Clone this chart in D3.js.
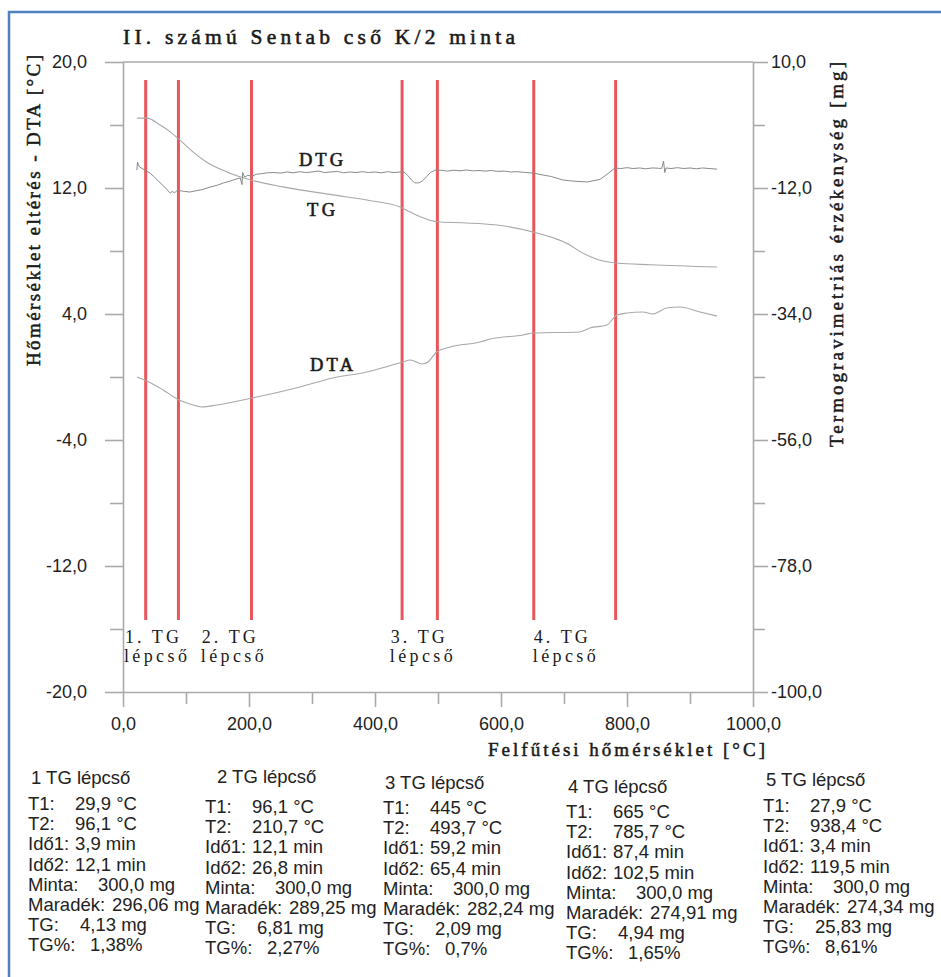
<!DOCTYPE html>
<html>
<head>
<meta charset="utf-8">
<script src="https://cdn.jsdelivr.net/npm/d3@7.9.0/dist/d3.min.js"></script>
<style>
  body { margin: 0; background: #fff; }
  svg { display: block; }
  .tick text { font-family: "Liberation Sans", Arial, sans-serif; font-size: 18px; fill: #222; }
  .serif { font-family: "Liberation Serif", "DejaVu Serif", serif; fill: #1a1a1a; }
  .tbl { font-family: "Liberation Sans", Arial, sans-serif; font-size: 18.5px; fill: #222; }
</style>
</head>
<body>
<svg id="chart" width="941" height="977"></svg>
<script>
// TG curve (right axis, mg)
const tgTemp = [22, 38, 59, 75, 90, 111, 133, 165, 203, 254, 333, 387, 440, 456, 476, 498, 546, 603, 652, 683, 710, 721, 757, 784, 837, 943];
const tgMass = [0.2, 0.2, -1.0, -2.2, -3.6, -5.7, -7.5, -9.2, -10.6, -11.8, -13.2, -14.1, -15.3, -16.2, -17.2, -17.9, -18.1, -18.6, -19.7, -20.7, -22.0, -22.8, -24.6, -25.1, -25.4, -25.8];

// DTA curve (left axis, °C)
const dtaTemp = [22, 38, 64, 89, 106, 125, 149, 205, 281, 333, 387, 444, 456, 475, 484, 498, 519, 567, 583, 635, 651, 725, 741, 768, 784, 800, 825, 841, 863, 884, 916, 943];
const dtaVal = [0.0, -0.25, -0.83, -1.46, -1.71, -1.9, -1.78, -1.33, -0.63, -0.06, 0.32, 0.95, 1.08, 0.83, 0.95, 1.59, 1.9, 2.22, 2.41, 2.67, 2.79, 2.86, 3.11, 3.3, 3.94, 4.06, 4.13, 4.0, 4.38, 4.44, 4.13, 3.87];

// DTG curve (right axis scale)
const dtgTemp = [22, 23, 26, 35, 43, 50, 57, 64, 70, 75, 78, 82, 86, 92, 98, 106, 115, 125, 138, 150, 160, 170, 178, 186, 189, 190, 193, 198, 205, 212, 220, 229, 240, 250, 260, 270, 280, 290, 300, 310, 320, 330, 340, 350, 360, 370, 380, 390, 400, 410, 420, 430, 440, 446, 452, 458, 463, 470, 476, 482, 488, 495, 505, 515, 525, 535, 545, 555, 565, 575, 585, 595, 605, 615, 625, 640, 652, 665, 680, 698, 715, 737, 757, 766, 773, 781, 790, 800, 810, 820, 830, 840, 850, 855, 858, 860, 862, 870, 880, 890, 900, 910, 920, 930, 943];
const dtgVal = [-8.9, -7.5, -8.3, -8.9, -9.4, -10.1, -10.9, -11.6, -12.3, -12.9, -12.6, -12.85, -12.4, -12.5, -12.6, -12.7, -12.5, -12.3, -11.85, -11.5, -11.1, -10.8, -10.5, -10.25, -11.4, -9.3, -10.1, -9.8, -9.9, -9.6, -9.5, -9.35, -9.3, -9.4, -9.2, -9.35, -9.15, -9.3, -9.2, -9.05, -9.3, -9.2, -9.1, -9.35, -9.2, -9.3, -9.15, -9.3, -9.2, -9.35, -9.15, -9.3, -9.2, -9.2, -9.8, -10.6, -11.1, -11.1, -10.7, -10.0, -9.3, -8.9, -8.9, -9.05, -8.9, -9.0, -8.85, -9.0, -8.95, -9.05, -8.95, -9.1, -9.05, -9.2, -9.15, -9.3, -9.4, -9.7, -10.0, -10.6, -10.8, -10.95, -10.5, -9.8, -9.2, -8.5, -8.6, -8.45, -8.6, -8.5, -8.65, -8.5, -8.55, -8.6, -7.3, -9.3, -8.5, -8.6, -8.45, -8.6, -8.5, -8.65, -8.5, -8.6, -8.7];

// TG step boundaries (°C) and step labels
const stepLines = [36, 88, 204, 443, 499, 652, 782];
const stepLabelTemp = [3, 125, 425, 652];
const stepLabelNum = ['1. TG', '2. TG', '3. TG', '4. TG'];

// axis ticks
const xMajor = [0, 200, 400, 600, 800, 1000];
const xMinor = [100, 300, 500, 700, 900];
const leftMajor = [20, 12, 4, -4, -12, -20];
const leftMinor = [16, 8, 0, -8, -16];
const rightMajor = [10, -12, -34, -56, -78, -100];
const rightMinor = [-1, -23, -45, -67, -89];

// step tables
const stepNames = ['1 TG lépcső', '2 TG lépcső', '3 TG lépcső', '4 TG lépcső', '5 TG lépcső'];
const t1 = ['29,9', '96,1', '445', '665', '27,9'];
const t2 = ['96,1', '210,7', '493,7', '785,7', '938,4'];
const ido1 = ['3,9', '12,1', '59,2', '87,4', '3,4'];
const ido2 = ['12,1', '26,8', '65,4', '102,5', '119,5'];
const minta = ['300,0', '300,0', '300,0', '300,0', '300,0'];
const maradek = ['296,06', '289,25', '282,24', '274,91', '274,34'];
const tgMg = ['4,13', '6,81', '2,09', '4,94', '25,83'];
const tgPct = ['1,38', '2,27', '0,7', '1,65', '8,61'];

const svg = d3.select('#chart');
const pLeft = 123, pRight = 753, pTop = 62, pBottom = 692;
const axisColor = '#aaa';

const x = d3.scaleLinear().domain([0, 1000]).range([pLeft, pRight]);
const yL = d3.scaleLinear().domain([-20, 20]).range([pBottom, pTop]);
const yR = d3.scaleLinear().domain([-100, 10]).range([pBottom, pTop]);
const fmt = (d) => d.toFixed(1).replace('.', ',');

svg.append('rect').attr('width', 941).attr('height', 977).attr('fill', '#fff');

// blue frame
svg.append('path')
  .attr('d', 'M9,977V12H941')
  .attr('fill', 'none')
  .attr('stroke', '#4f81bd')
  .attr('stroke-width', 2.5);

function styleAxis(g) {
  g.selectAll('path, line').attr('stroke', axisColor).attr('stroke-width', 1.6);
}

// axes
svg.append('g').attr('transform', `translate(${pLeft},0)`)
  .call(d3.axisLeft(yL).tickValues(leftMajor).tickSize(18).tickSizeOuter(0).tickPadding(18).tickFormat(fmt))
  .call(styleAxis);
svg.append('g').attr('transform', `translate(${pLeft},0)`)
  .call(d3.axisLeft(yL).tickValues(leftMinor).tickSize(13).tickFormat(''))
  .call(styleAxis).call((g) => g.select('.domain').remove());

svg.append('g').attr('transform', `translate(${pRight},0)`)
  .call(d3.axisRight(yR).tickValues(rightMajor).tickSize(15).tickSizeOuter(0).tickPadding(3).tickFormat(fmt))
  .call(styleAxis);
svg.append('g').attr('transform', `translate(${pRight},0)`)
  .call(d3.axisRight(yR).tickValues(rightMinor).tickSize(12).tickFormat(''))
  .call(styleAxis).call((g) => g.select('.domain').remove());

svg.append('g').attr('transform', `translate(0,${pBottom})`)
  .call(d3.axisBottom(x).tickValues(xMajor).tickSize(15).tickSizeOuter(0).tickPadding(10).tickFormat(fmt))
  .call(styleAxis);
svg.append('g').attr('transform', `translate(0,${pBottom})`)
  .call(d3.axisBottom(x).tickValues(xMinor).tickSize(12).tickFormat(''))
  .call(styleAxis).call((g) => g.select('.domain').remove());

// top border
svg.append('line')
  .attr('x1', pLeft).attr('x2', pRight).attr('y1', pTop).attr('y2', pTop)
  .attr('stroke', axisColor).attr('stroke-width', 1.6);

// step lines
svg.append('g').selectAll('line').data(stepLines).join('line')
  .attr('x1', (d) => x(d)).attr('x2', (d) => x(d))
  .attr('y1', 80).attr('y2', 620)
  .attr('stroke', '#e8555a').attr('stroke-width', 3);

// curves
const lineL = d3.line().x((d) => x(d[0])).y((d) => yL(d[1]));
const lineR = d3.line().x((d) => x(d[0])).y((d) => yR(d[1]));

svg.append('path').datum(d3.zip(tgTemp, tgMass))
  .attr('d', lineR.curve(d3.curveMonotoneX))
  .attr('fill', 'none').attr('stroke', '#a8a8a8').attr('stroke-width', 1.1);
svg.append('path').datum(d3.zip(dtaTemp, dtaVal))
  .attr('d', lineL.curve(d3.curveMonotoneX))
  .attr('fill', 'none').attr('stroke', '#a8a8a8').attr('stroke-width', 1.1);
svg.append('path').datum(d3.zip(dtgTemp, dtgVal))
  .attr('d', d3.line().x((d) => x(d[0])).y((d) => yR(d[1])))
  .attr('fill', 'none').attr('stroke', '#8a8a8a').attr('stroke-width', 1);

// spaced serif text helper (a thin outline gives the semi-bold look)
function spaced(txt, px, py, size, len, rot, heavy) {
  const t = svg.append('text').attr('class', 'serif')
    .attr('font-size', size)
    .attr('textLength', len).attr('lengthAdjust', 'spacing')
    .text(txt);
  if (heavy) t.attr('stroke', '#1a1a1a').attr('stroke-width', heavy);
  if (rot) t.attr('transform', `translate(${px},${py}) rotate(-90)`);
  else t.attr('x', px).attr('y', py);
  return t;
}

spaced('II. számú Sentab cső K/2 minta', 123, 44, 21.5, 392, false, 0.55);
spaced('Hőmérséklet eltérés - DTA [°C]', 40, 366, 19, 311, true, 0.5);
spaced('Termogravimetriás érzékenység [mg]', 843, 447, 19, 385, true, 0.5);
spaced('Felfűtési hőmérséklet [°C]', 488, 756, 19, 277, false, 0.5);

spaced('DTG', 299, 166, 18.5, 44, false, 0.6);
spaced('TG', 307, 216, 18.5, 28, false, 0.6);
spaced('DTA', 310, 371, 18.5, 43, false, 0.6);

stepLabelTemp.forEach((d, i) => {
  spaced(stepLabelNum[i], x(d), 643, 18, 54).attr('fill', '#e05c60');
  spaced('lépcső', x(d) - 1, 662, 18, 63).attr('fill', '#e05c60');
});

// step tables
const colX = [28, 205, 383, 566, 763];
const headX = [31, 217, 385, 568, 766];
const headY = [784, 783, 789, 793, 786];
const rowY0 = [810, 813, 814, 818, 812];
const rowGap = 20.2;

const rowLabels = ['T1:', 'T2:', 'Idő1:', 'Idő2:', 'Minta:', 'Maradék:', 'TG:', 'TG%:'];
const valOffset = [47, 47, 47, 47, 70, 84, 52, 62];
const rowVals = [
  t1.map((v) => v + ' °C'),
  t2.map((v) => v + ' °C'),
  ido1.map((v) => v + ' min'),
  ido2.map((v) => v + ' min'),
  minta.map((v) => v + ' mg'),
  maradek.map((v) => v + ' mg'),
  tgMg.map((v) => v + ' mg'),
  tgPct.map((v) => v + '%')
];

stepNames.forEach((name, c) => {
  svg.append('text').attr('class', 'tbl').attr('x', headX[c]).attr('y', headY[c]).text(name);
  rowLabels.forEach((lab, r) => {
    const yy = rowY0[c] + r * rowGap;
    svg.append('text').attr('class', 'tbl').attr('x', colX[c]).attr('y', yy).text(lab);
    svg.append('text').attr('class', 'tbl').attr('x', colX[c] + valOffset[r]).attr('y', yy).text(rowVals[r][c]);
  });
});
</script>
</body>
</html>
